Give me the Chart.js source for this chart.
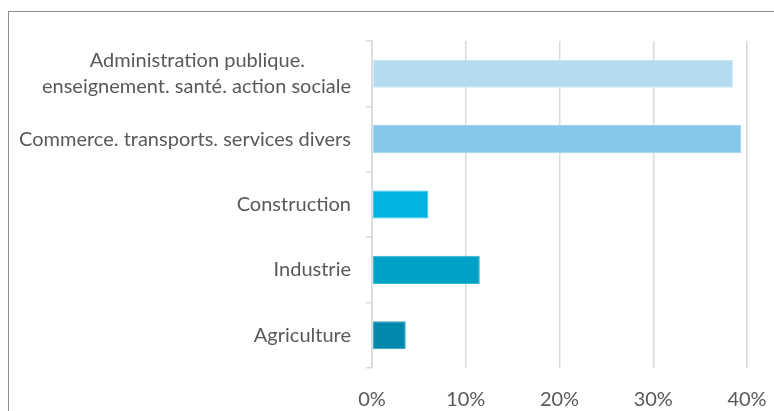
<!DOCTYPE html>
<html>
<head>
<meta charset="utf-8">
<script src="https://cdn.jsdelivr.net/npm/chart.js@4"></script>
<style>
  html, body { margin: 0; padding: 0; background: #fff; overflow: hidden; }
  #wrap { position: relative; width: 774px; height: 411px; }
  #frame { position: absolute; left: 8px; top: 11px; width: 900px; height: 600px; border: 1px solid #8c8c8c; box-sizing: border-box; }
  #chart { position: absolute; left: 0; top: 0; }
</style>
</head>
<body>
<div id="wrap">
  <div id="frame"></div>
  <canvas id="chart" width="774" height="411"></canvas>
</div>
<script>
var sectors = [
  ['Administration publique.', 'enseignement. santé. action sociale'],
  'Commerce. transports. services divers',
  'Construction',
  'Industrie',
  'Agriculture'
];
var shares = [38.5, 39.4, 6.0, 11.5, 3.6];
var barColors = ['#b4dbf0', '#85c8ea', '#00b4e1', '#00a1c7', '#0089ad'];
var barEdges = ['#c9e6f6', '#a0d5ef', '#33c3e7', '#33b4d3', '#33a1bd'];
var xTicks = [0, 10, 20, 30, 40];

var labelFont = { family: 'Lato', size: 20, lineHeight: 1.3 };

// centre the short first line over the long one by padding it with spaces
function centerLines(lines) {
  if (!Array.isArray(lines)) return lines;
  var ctx = document.createElement('canvas').getContext('2d');
  ctx.font = labelFont.size + 'px ' + labelFont.family;
  var w = lines.map(function (l) { return ctx.measureText(l).width; });
  var widest = Math.max.apply(null, w);
  return lines.map(function (l, i) {
    var s = l;
    while (ctx.measureText(s + ' ').width <= w[i] + (widest - w[i]) / 2) s += ' ';
    return s;
  });
}

var ctx = document.getElementById('chart').getContext('2d');
var chart = new Chart(ctx, {
  type: 'bar',
  data: {
    labels: sectors.map(centerLines),
    datasets: [{
      data: shares,
      backgroundColor: barColors,
      borderColor: barEdges,
      borderWidth: 1,
      borderSkipped: false,
      barPercentage: 0.43,
      categoryPercentage: 1
    }]
  },
  options: {
    indexAxis: 'y',
    responsive: false,
    animation: false,
    layout: { padding: { top: 41, right: 27, left: 0, bottom: 0 } },
    plugins: {
      legend: { display: false },
      tooltip: { enabled: false }
    },
    scales: {
      x: {
        min: 0,
        max: 40,
        afterFit: function (scale) {
          scale.height = 43;
          // the label gap is large, don't let it eat into the plot width
          scale.paddingLeft = 0;
          scale.paddingRight = 0;
        },
        afterBuildTicks: function (scale) {
          scale.ticks = xTicks.map(function (v) { return { value: v }; });
        },
        grid: { color: '#d9d9d9', lineWidth: 1.5, drawTicks: false },
        border: { display: false },
        ticks: {
          color: '#595959',
          font: { family: 'Lato', size: 20 },
          padding: 20,
          callback: function (v) { return v + '%'; }
        }
      },
      y: {
        afterFit: function (scale) { scale.width = 372; },
        grid: {
          offset: true,
          drawOnChartArea: false,
          color: '#d9d9d9',
          lineWidth: 1.5,
          tickLength: 6
        },
        border: { color: '#d9d9d9', width: 1.5 },
        ticks: {
          color: '#595959',
          font: labelFont,
          padding: 15
        }
      }
    }
  }
});
</script>
</body>
</html>
